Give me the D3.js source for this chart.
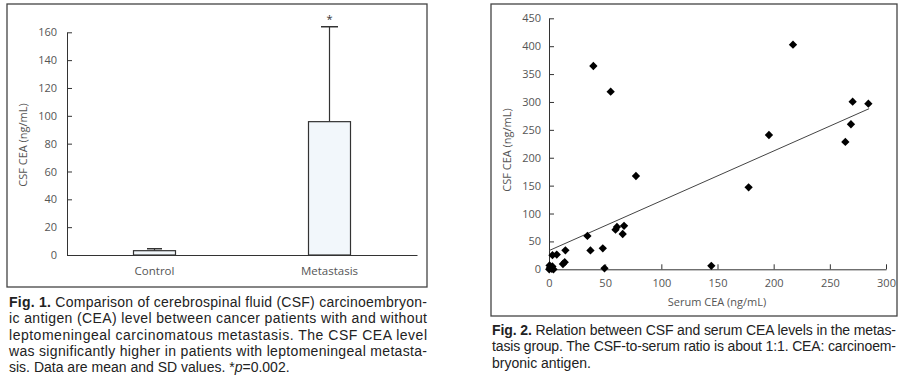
<!DOCTYPE html>
<html><head><meta charset="utf-8">
<script src="https://cdn.jsdelivr.net/npm/d3@7"></script>
<style>
body{margin:0;background:#fff;}
svg text{font-family:"Open Sans",sans-serif;}
.cap text{font-family:"Liberation Sans",Arial,sans-serif;font-size:14px;fill:#222;}
</style></head><body>
<svg id="c" width="905" height="389"></svg>
<script>
// ---- Fig 1 data ----
const barCats = ["Control", "Metastasis"];
const barMeans = [3.1, 95.8];
const barSD = [1.4, 68.2];
const barTicks = [0, 20, 40, 60, 80, 100, 120, 140, 160];
// ---- Fig 2 data ----
const serum = [39.5, 54.9, 217.2, 270.3, 284.3, 268.8, 263.8, 195.8, 177.7, 144.5, 77.4, 66.8, 65.6, 60.5, 59.2, 34.2, 36.9, 47.9, 49.4, 14.6, 14.0, 12.4, 3.1, 6.9, 0.5, 1.0, 2.5, 4.0, 0.2, 3.0];
const csf   = [364.5, 318.5, 402.8, 300.6, 297.0, 260.0, 228.3, 240.8, 147.0, 6.3, 167.3, 77.9, 63.3, 76.0, 71.0, 59.8, 33.8, 37.6, 1.8, 34.0, 12.8, 9.5, 25.4, 26.4, 7.0, 3.0, 1.0, 0.0, 0.0, 5.0];
const fitIntercept = 33.5, fitSlope = 0.893, fitMaxX = 285;
const scatXTicks = [0, 50, 100, 150, 200, 250, 300];
const scatYTicks = [0, 50, 100, 150, 200, 250, 300, 350, 400, 450];
const caption1 = [
 ["Fig. 1.", " Comparison of cerebrospinal fluid (CSF) carcinoembryon-"],
 ["", "ic antigen (CEA) level between cancer patients with and without"],
 ["", "leptomeningeal carcinomatous metastasis. The CSF CEA level"],
 ["", "was significantly higher in patients with leptomeningeal metasta-"],
 ["", "sis. Data are mean and SD values. *p=0.002."]
];
const caption2 = [
 ["Fig. 2.", " Relation between CSF and serum CEA levels in the metas-"],
 ["", "tasis group. The CSF-to-serum ratio is about 1:1. CEA: carcinoem-"],
 ["", "bryonic antigen."]
];

const svg = d3.select("#c");
const axisCol = "#333", textCol = "#555";

// frames
svg.append("rect").attr("x",7).attr("y",4).attr("width",420).attr("height",283)
  .attr("fill","none").attr("stroke","#444").attr("stroke-width",1.3);
svg.append("rect").attr("x",491).attr("y",4).attr("width",406).attr("height",312)
  .attr("fill","none").attr("stroke","#444").attr("stroke-width",1.3);

function styleAxis(g){
  g.selectAll(".domain").attr("stroke",axisCol);
  g.selectAll(".tick line").attr("stroke",axisCol);
  g.selectAll(".tick text").attr("fill",textCol).style("font-size","11px").style("font-family","'Open Sans',sans-serif");
}

// ---- Fig 1 ----
const x1 = d3.scaleBand().domain(barCats).range([67,417]).paddingInner(0.76).paddingOuter(0.38);
const y1 = d3.scaleLinear().domain([0,160]).range([255,32.3]);
const g1 = svg.append("g");
const ya1 = g1.append("g").attr("transform","translate(67,0)")
  .call(d3.axisLeft(y1).tickValues(barTicks).tickSize(-5).tickPadding(10).tickSizeOuter(0));
styleAxis(ya1);
const xa1 = g1.append("g").attr("transform","translate(0,255)")
  .call(d3.axisBottom(x1).tickSize(0).tickPadding(12).tickSizeOuter(0));
styleAxis(xa1);
xa1.selectAll(".tick text").style("font-size","11.5px");

barCats.forEach((c,i)=>{
  const cx = x1(c)+x1.bandwidth()/2;
  const capW = i===0 ? 15 : 17;
  g1.append("line").attr("x1",cx).attr("x2",cx).attr("y1",y1(barMeans[i])).attr("y2",y1(barMeans[i]+barSD[i]))
    .attr("stroke",axisCol).attr("stroke-width",1.2);
  g1.append("line").attr("x1",cx-capW/2).attr("x2",cx+capW/2).attr("y1",y1(barMeans[i]+barSD[i])).attr("y2",y1(barMeans[i]+barSD[i]))
    .attr("stroke",axisCol).attr("stroke-width",1.5);
  g1.append("rect").attr("x",x1(c)).attr("width",x1.bandwidth())
    .attr("y",y1(barMeans[i])).attr("height",y1(0)-y1(barMeans[i]))
    .attr("fill","#f2f7fb").attr("stroke",axisCol).attr("stroke-width",1.2);
});
g1.append("text").attr("x",x1("Metastasis")+x1.bandwidth()/2).attr("y",y1(barMeans[1]+barSD[1])-4)
  .attr("text-anchor","middle").attr("fill","#333").style("font-size","11px").text("*");
g1.append("text").attr("transform","translate(27,145) rotate(-90)").attr("text-anchor","middle")
  .attr("fill",textCol).style("font-size","11px").text("CSF CEA (ng/mL)");

// ---- Fig 2 ----
const x2 = d3.scaleLinear().domain([0,300]).range([549,886]);
const y2 = d3.scaleLinear().domain([0,450]).range([269.3,18.3]);
const g2 = svg.append("g");
const ya2 = g2.append("g").attr("transform","translate(549,0)")
  .call(d3.axisLeft(y2).tickValues(scatYTicks).tickSize(-5).tickPadding(8).tickSizeOuter(0));
styleAxis(ya2);
const xa2 = g2.append("g").attr("transform","translate(0,269.3)")
  .call(d3.axisBottom(x2).tickValues(scatXTicks).tickSize(-5).tickPadding(10).tickSizeOuter(0));
styleAxis(xa2);
g2.append("line").attr("x1",x2(0)).attr("y1",y2(fitIntercept))
  .attr("x2",x2(fitMaxX)).attr("y2",y2(fitIntercept+fitSlope*fitMaxX))
  .attr("stroke","#444").attr("stroke-width",1);
const diamond = d3.symbol().type(d3.symbolDiamond2).size(44);
g2.selectAll("path.pt").data(serum.map((s,i)=>[s,csf[i]])).join("path").attr("class","pt")
  .attr("d",diamond).attr("transform",d=>`translate(${x2(d[0])},${y2(d[1])})`).attr("fill","#000");
g2.append("text").attr("x",717).attr("y",306).attr("text-anchor","middle")
  .attr("fill",textCol).style("font-size","11px").text("Serum CEA (ng/mL)");
g2.append("text").attr("transform","translate(511,150) rotate(-90)").attr("text-anchor","middle")
  .attr("fill",textCol).style("font-size","11px").text("CSF CEA (ng/mL)");

// ---- captions ----
function caption(lines, x0, x1r, yStart){
  const g = svg.append("g").attr("class","cap");
  lines.forEach((ln,i)=>{
    const t = g.append("text").attr("x",x0).attr("y",yStart+i*16.3);
    if(i<lines.length-1) t.attr("textLength",x1r-x0).attr("lengthAdjust","spacing");
    if(ln[0]) t.append("tspan").style("font-weight","bold").text(ln[0]);
    const parts = ln[1].split("*p");
    if(parts.length>1){
      t.append("tspan").text(parts[0]+"*");
      t.append("tspan").style("font-style","italic").text("p");
      t.append("tspan").text(parts[1]);
    } else t.append("tspan").text(ln[1]);
  });
}
caption(caption1, 9, 427, 307);
caption(caption2, 492, 896, 335);
</script></body></html>
